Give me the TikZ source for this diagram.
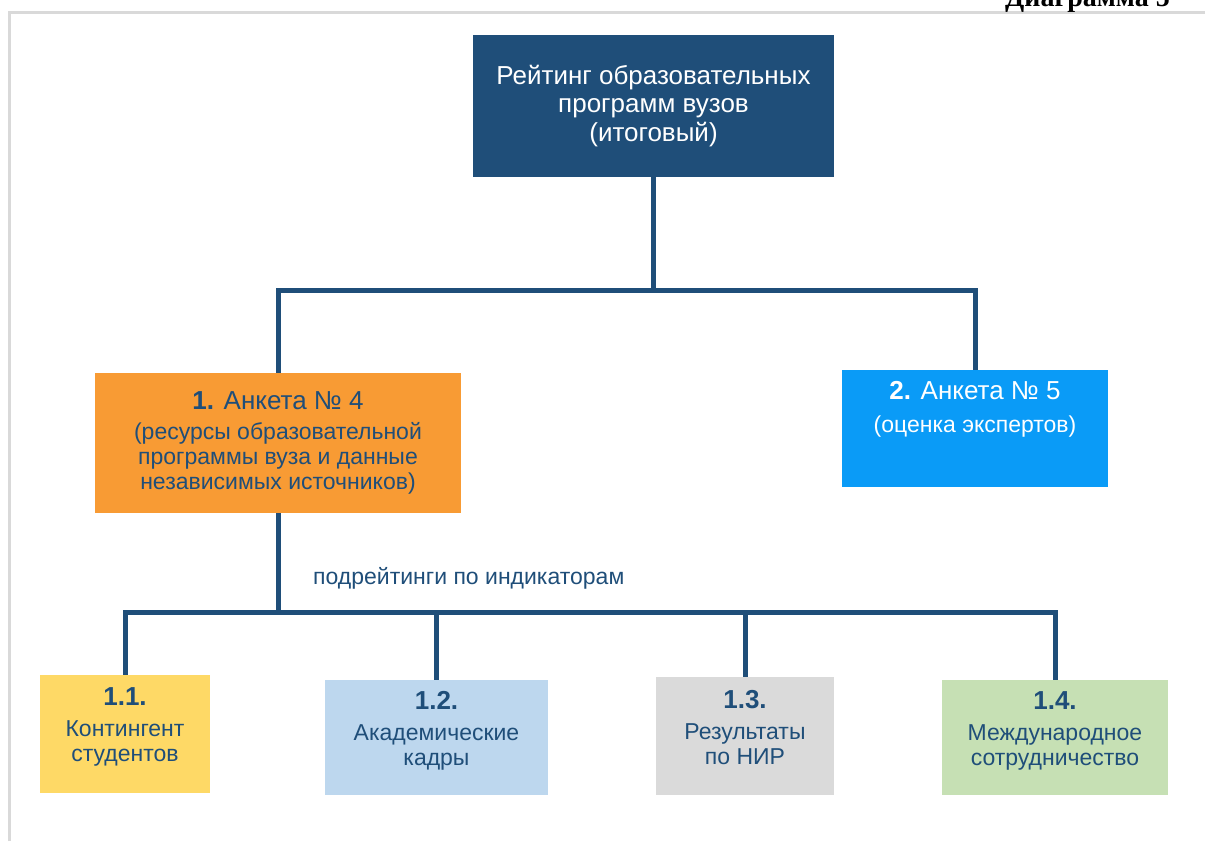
\documentclass[tikz,border=0pt]{standalone}
\usepackage{fontspec}
\setmainfont{Liberation Sans}
\newfontfamily\titlefont{Liberation Serif}
\usepackage{xcolor}
\definecolor{navy}{HTML}{1F4E79}
\definecolor{orangebox}{HTML}{F89B34}
\definecolor{skybox}{HTML}{0A9BF7}
\definecolor{yellowbox}{HTML}{FED966}
\definecolor{paleblue}{HTML}{BDD7EE}
\definecolor{greybox}{HTML}{DADADA}
\definecolor{greenbox}{HTML}{C6E0B4}
\definecolor{frame}{HTML}{D9D9D9}

\newcommand{\leafhead}[1]{{\fontsize{26}{25}\selectfont\bfseries #1}\\[6pt]}
\newcommand{\leafdrop}{\rule[-18pt]{0pt}{18pt}}

\tikzset{
  box/.style={draw=none,inner sep=0pt,align=center,text=navy},
  leaf/.style={box,font=\fontsize{23}{25}\selectfont},
  link/.style={draw=navy,line width=5pt},
}

\begin{document}
\begin{tikzpicture}[x=1pt,y=-1pt]
  \useasboundingbox (0,0) rectangle (1205,841);
  \clip (0,0) rectangle (1205,841);

  % Page frame and caption
  \draw[frame,line width=3pt] (9.5,841) -- (9.5,12) -- (1205,12);
  \node[anchor=base east,inner sep=0pt,font=\titlefont\bfseries\fontsize{28}{30}\selectfont] (caption) at (1170,6) {Диаграмма 5};

  % Final rating
  \node[box,fill=navy,text=white,minimum width=361pt,minimum height=142pt,
        font=\fontsize{26}{28.5}\selectfont] (rating) at (653.5,106)
        {Рейтинг образовательных\\программ вузов\\(итоговый)};

  % Questionnaire 4
  \node[box,fill=orangebox,minimum width=366pt,minimum height=140pt,
        font=\fontsize{23}{25}\selectfont] (anketa4) at (278,443)
        {{\fontsize{26}{25}\selectfont\textbf{1.} Анкета № 4}\\[5pt]
         (ресурсы образовательной\\программы вуза и данные\\независимых источников)};

  % Questionnaire 5
  \node[box,fill=skybox,text=white,minimum width=266pt,minimum height=117pt,
        font=\fontsize{23}{33}\selectfont] (anketa5) at (975,428.5)
        {{\fontsize{26}{25}\selectfont\textbf{2.} Анкета № 5}\\(оценка экспертов)\\ \strut};

  % Sub-ratings
  \node[leaf,fill=yellowbox,minimum width=170pt,minimum height=118pt] (k11) at (125,734)
        {\leafhead{1.1.}Контингент\\студентов\leafdrop};
  \node[leaf,fill=paleblue,minimum width=223pt,minimum height=115pt] (k12) at (436.5,737.5)
        {\leafhead{1.2.}Академические\\кадры\leafdrop};
  \node[leaf,fill=greybox,minimum width=178pt,minimum height=118pt] (k13) at (745,736)
        {\leafhead{1.3.}Результаты\\по НИР\leafdrop};
  \node[leaf,fill=greenbox,minimum width=226pt,minimum height=115pt] (k14) at (1055,737.5)
        {\leafhead{1.4.}Международное\\сотрудничество\leafdrop};

  % Connectors
  \coordinate (bus1) at (653.5,290);
  \coordinate (bus2) at (278,612);
  \draw[link] (rating.south) -- (bus1);
  \draw[link] (bus1) -| (anketa4.north);
  \draw[link] (bus1) -| (anketa5.north);
  \draw[link] (anketa4.south) -- (bus2);
  \draw[link] (bus2) -| (k11.north);
  \draw[link] (bus2) -| (k12.north);
  \draw[link] (bus2) -| (k13.north);
  \draw[link] (bus2) -| (k14.north);

  % Label
  \node[anchor=west,inner sep=0pt,text=navy,font=\fontsize{23}{25}\selectfont] (sublabel) at (313,578) {подрейтинги по индикаторам};
\end{tikzpicture}
\end{document}
